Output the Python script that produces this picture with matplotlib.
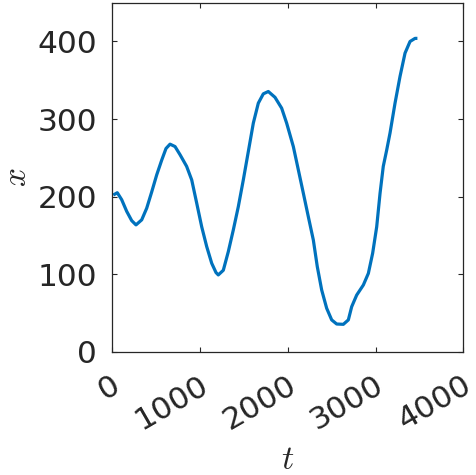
import matplotlib
matplotlib.use("Agg")
import matplotlib.pyplot as plt
from matplotlib.transforms import ScaledTranslation

t_vals = [11, 57, 107, 164, 221, 270, 335, 392, 449, 506, 563, 612, 658, 715,
          772, 847, 905, 962, 1019, 1076, 1133, 1182, 1208, 1265, 1322, 1379,
          1436, 1493, 1550, 1607, 1664, 1721, 1778, 1854, 1930, 1987, 2063,
          2120, 2177, 2234, 2291, 2336, 2386, 2443, 2500, 2557, 2633, 2690,
          2728, 2785, 2861, 2918, 2967, 3013, 3051, 3088, 3127, 3165, 3222,
          3279, 3336, 3393, 3450, 3477]
x_vals = [202, 205, 196, 181, 169, 163.5, 170, 185, 206, 228, 247, 262, 267.6, 264.5,
          254, 239, 221.5, 191.5, 161, 135.5, 114, 102, 99, 105, 129, 157,
          187, 221.5, 258, 294.7, 320.5, 332.5, 335.5, 328, 314, 294.7, 264.5,
          234.5, 204.4, 174, 144, 109.7, 79.6, 56, 41, 35.7, 35.3, 41,
          58, 73, 86, 101, 127, 161, 204, 239, 260, 282, 320.5,
          355, 385, 400, 404, 404]
x_ticks = [0, 1000, 2000, 3000, 4000]
y_ticks = [0, 100, 200, 300, 400]

plt.rcParams['mathtext.fontset'] = 'cm'
fig = plt.figure(figsize=(4.76, 4.75), dpi=100)
W, H = 476, 475
ax_left, ax_bottom_px = 112.3, 351.7
ax_w, ax_h = 351.0, 349.0
ax = fig.add_axes([ax_left / W, 1 - ax_bottom_px / H, ax_w / W, ax_h / H])
ax.plot(t_vals, x_vals, color='#0072BD', lw=2.3, solid_joinstyle='round',
        solid_capstyle='butt')
ax.set_xlim(0, 4000)
ax.set_ylim(0, 450)
ax.set_xticks(x_ticks)
ax.set_yticks(y_ticks)
ax.set_xticklabels([str(v) for v in x_ticks], rotation=30, ha='right',
                   va='baseline', rotation_mode='anchor')
ax.tick_params(direction='in', length=3.5, width=0.8, colors='#262626',
               labelsize=22.5, top=True, right=True)
ax.tick_params(axis='x', pad=0)
ax.tick_params(axis='y', pad=11)
offset = ScaledTranslation(10.3 / 100, -38.5 / 100, fig.dpi_scale_trans)
for lab in ax.get_xticklabels():
    lab.set_transform(lab.get_transform() + offset)
for s in ax.spines.values():
    s.set_color('#262626')
    s.set_linewidth(0.9)
ax.set_xlabel('$t$', fontsize=24.5, color='#262626', va='baseline')
ax.xaxis.set_label_coords(0.5, (ax_bottom_px - 469.0) / ax_h)
ax.set_ylabel('$x$', fontsize=24, color='#262626', va='baseline')
ax.yaxis.set_label_coords((25.8 - ax_left) / ax_w, 0.5)
fig.savefig('out.png', dpi=100, facecolor='white')
